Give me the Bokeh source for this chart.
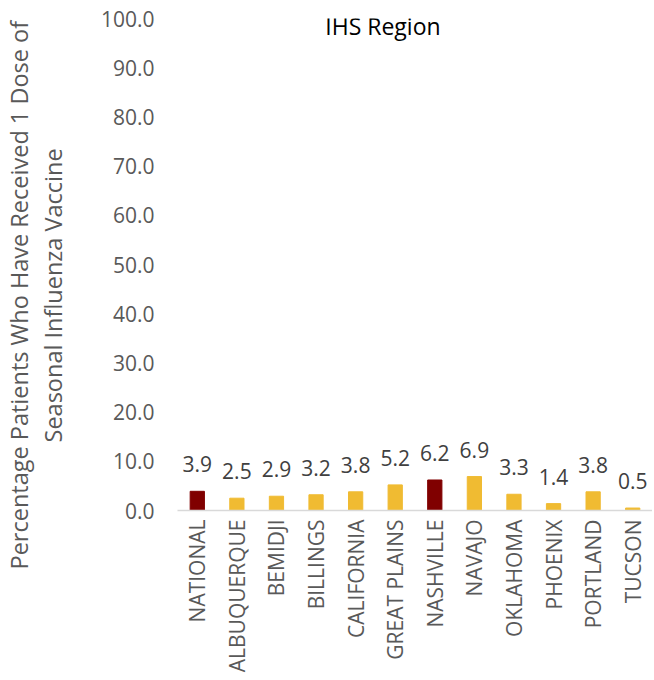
import math
from bokeh.plotting import figure
from bokeh.models import ColumnDataSource, Range1d, FixedTicker, LabelSet, Label, Title
from bokeh.core.properties import value
from bokeh.embed import file_html
from bokeh.resources import INLINE

regions = ["NATIONAL", "ALBUQUERQUE", "BEMIDJI", "BILLINGS", "CALIFORNIA", "GREAT PLAINS",
           "NASHVILLE", "NAVAJO", "OKLAHOMA", "PHOENIX", "PORTLAND", "TUCSON"]
percent = [3.9, 2.5, 2.9, 3.2, 3.8, 5.2, 6.2, 6.9, 3.3, 1.4, 3.8, 0.5]
highlight = ["NATIONAL", "NASHVILLE"]
y_ticks = [0, 10, 20, 30, 40, 50, 60, 70, 80, 90, 100]
y_title = ["Percentage Patients Who Have Received 1 Dose of", "Seasonal Influenza Vaccine"]

DARK = "#800000"
GOLD = "#F0BB32"
FONT = "Open Sans"

xs = list(range(len(regions)))
colors = [DARK if r in highlight else GOLD for r in regions]
src = ColumnDataSource(dict(x=xs, top=percent, color=colors,
                            label=[f"{v:.1f}" for v in percent]))

p = figure(width=652, height=676, output_backend="svg", toolbar_location=None,
           x_range=Range1d(-0.5, 11.5), y_range=Range1d(0, 100),
           min_border_left=173, min_border_right=0, min_border_top=18, min_border_bottom=166)
p.outline_line_color = None
p.xgrid.visible = False
p.ygrid.visible = False

p.vbar(x="x", top="top", width=0.36, color="color", source=src)

labels = LabelSet(x="x", y="top", text="label", source=src, y_offset=19,
                  text_align="center", text_baseline="alphabetic",
                  text_font=value(FONT), text_font_size="21px", text_color="#404040")
p.add_layout(labels)

# x axis
p.xaxis.ticker = FixedTicker(ticks=xs)
p.xaxis.major_label_overrides = {i: r for i, r in enumerate(regions)}
p.xaxis.major_label_orientation = math.pi / 2
p.xaxis.major_label_text_font = FONT
p.xaxis.major_label_text_font_size = "21px"
p.xaxis.major_label_text_color = "#595959"
p.xaxis.major_label_standoff = 9
p.xaxis.axis_line_color = "#D9D9D9"
p.xaxis.axis_line_width = 1.5
p.xaxis.major_tick_out = 0
p.xaxis.major_tick_in = 0
p.xaxis.major_tick_line_color = None
p.xaxis.minor_tick_line_color = None

# y axis
p.yaxis.ticker = FixedTicker(ticks=y_ticks)
p.yaxis.major_label_overrides = {t: f"{t:.1f}" for t in y_ticks}
p.yaxis.major_label_text_font = FONT
p.yaxis.major_label_text_font_size = "21px"
p.yaxis.major_label_text_color = "#595959"
p.yaxis.major_label_standoff = 23
p.yaxis.major_tick_out = 0
p.yaxis.major_tick_in = 0
p.yaxis.axis_line_color = None
p.yaxis.major_tick_line_color = None
p.yaxis.minor_tick_line_color = None

# spacer between tick labels and the y-axis title
p.add_layout(Title(text=" ", standoff=16, text_font_size="10px"), "left")
# y-axis title as two left-side titles (inner line first)
p.add_layout(Title(text=y_title[1], align="left", offset=68, standoff=0,
                   text_font=FONT, text_font_size="23.5px", text_font_style="normal",
                   text_color="#595959"), "left")
p.add_layout(Title(text=y_title[0], align="left", offset=-59, standoff=0,
                   text_font=FONT, text_font_size="23.5px", text_font_style="normal",
                   text_color="#595959"), "left")

# chart title
p.add_layout(Label(x=4.69, y=98.4, text="IHS Region", text_align="center",
                   text_baseline="middle", text_font=FONT,
                   text_font_size="23px", text_color="#000000"))

open("out.html", "w").write(file_html(p, INLINE))
